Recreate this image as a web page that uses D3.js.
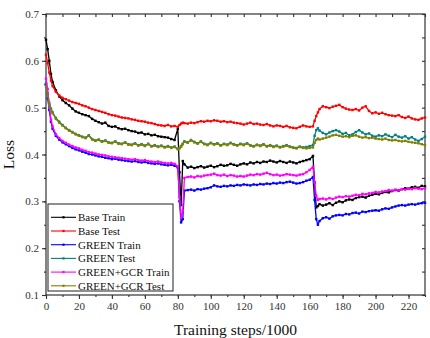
<!DOCTYPE html>
<html>
<head>
<meta charset="utf-8">
<script src="https://cdn.jsdelivr.net/npm/d3@7"></script>
<style>
  body { margin: 0; background: #fff; }
  svg { display: block; }
  text { font-family: "Liberation Serif", "Times New Roman", serif; }
</style>
</head>
<body>
<div class="chart"></div>
<script>
// training steps (x1000)
const steps = [0,1,2,3,4,6,8,10,12,14,16,18,20,22,24,26,28,30,32,34,36,38,40,42,44,46,48,50,52,54,56,58,60,62,64,66,68,70,72,74,76,78,
  80,81,82,83,84,
  86,88,90,92,94,96,98,100,102,104,106,108,110,112,114,116,118,120,122,124,126,128,130,132,134,136,138,140,142,144,146,148,150,152,154,156,158,160,
  162,163,164,165,166,
  168,170,172,174,176,178,180,182,184,186,188,190,192,194,196,198,200,202,204,206,208,210,212,214,216,218,220,222,224,226,228,230];

const baseTrain = [.645,.625,.600,.572,.555,.537,.524,.516,.510,.505,.498,.492,.489,.486,.484,.482,.476,.472,.469,.466,.468,.461,.459,.460,.456,.454,.455,.452,.450,.449,.446,.447,.443,.444,.441,.442,.439,.438,.437,.436,.433,.431,
  .455,.362,.292,.386,.379,
  .372,.374,.371,.373,.375,.372,.374,.376,.373,.375,.378,.376,.377,.380,.378,.376,.379,.381,.379,.383,.381,.384,.382,.385,.384,.387,.385,.383,.386,.384,.382,.385,.383,.381,.384,.386,.388,.390,
  .397,.340,.287,.290,.294,
  .291,.293,.296,.292,.297,.300,.298,.302,.304,.303,.307,.309,.310,.308,.312,.314,.316,.315,.318,.320,.319,.322,.324,.323,.326,.328,.327,.330,.331,.329,.333,.332];

const baseTest = [.613,.595,.575,.558,.546,.534,.526,.521,.518,.515,.512,.510,.508,.505,.503,.500,.497,.495,.493,.491,.489,.486,.484,.483,.481,.479,.478,.477,.475,.474,.472,.471,.470,.468,.467,.465,.463,.462,.461,.463,.460,.461,
  .459,.463,.466,.468,.467,
  .466,.468,.467,.469,.471,.470,.472,.471,.473,.472,.470,.471,.469,.470,.468,.467,.466,.464,.466,.468,.465,.466,.464,.463,.465,.462,.460,.462,.461,.459,.461,.458,.457,.456,.459,.462,.460,.459,
  .460,.472,.482,.490,.497,
  .503,.501,.499,.502,.504,.506,.501,.498,.496,.495,.497,.494,.500,.503,.493,.488,.490,.487,.489,.486,.484,.483,.482,.484,.480,.478,.481,.477,.475,.474,.477,.479];

const greenTrain = [.550,.520,.495,.470,.455,.440,.432,.426,.422,.418,.414,.411,.409,.406,.404,.401,.400,.398,.396,.395,.393,.392,.390,.391,.389,.388,.387,.386,.385,.386,.384,.383,.384,.382,.381,.380,.381,.379,.378,.377,.378,.376,
  .372,.300,.255,.262,.323,
  .324,.325,.323,.326,.325,.327,.328,.330,.334,.332,.331,.333,.332,.334,.333,.335,.334,.336,.335,.334,.336,.335,.337,.336,.338,.337,.339,.338,.340,.339,.341,.342,.340,.338,.339,.341,.344,.346,
  .352,.303,.262,.250,.258,
  .264,.266,.263,.268,.270,.271,.270,.273,.272,.275,.276,.274,.278,.277,.279,.280,.281,.280,.283,.285,.284,.287,.289,.291,.292,.291,.293,.294,.293,.295,.296,.297];

const greenTest = [.552,.530,.510,.498,.490,.478,.470,.463,.457,.452,.448,.444,.441,.438,.436,.441,.433,.430,.432,.428,.430,.426,.425,.428,.424,.423,.426,.422,.421,.424,.420,.422,.419,.423,.418,.420,.417,.419,.416,.418,.415,.417,
  .412,.414,.418,.423,.428,
  .426,.431,.427,.424,.428,.423,.421,.425,.422,.424,.420,.423,.421,.425,.422,.420,.423,.421,.424,.420,.418,.421,.419,.422,.418,.420,.417,.419,.416,.418,.420,.417,.415,.414,.417,.415,.416,.418,
  .420,.440,.452,.456,.451,
  .446,.443,.447,.450,.452,.449,.444,.446,.441,.443,.448,.452,.447,.443,.445,.440,.438,.441,.439,.443,.440,.437,.442,.438,.436,.439,.434,.437,.432,.429,.433,.438];

const gcrTrain = [.562,.540,.505,.475,.460,.443,.435,.429,.425,.421,.418,.415,.413,.410,.408,.405,.404,.402,.400,.399,.398,.396,.395,.394,.393,.392,.391,.390,.389,.390,.388,.387,.388,.386,.385,.384,.385,.383,.382,.381,.382,.380,
  .375,.310,.265,.280,.350,
  .352,.353,.351,.354,.353,.355,.356,.357,.359,.356,.355,.357,.354,.356,.355,.353,.354,.353,.355,.357,.356,.358,.357,.359,.361,.358,.356,.357,.355,.356,.358,.357,.356,.355,.357,.358,.362,.367,
  .374,.340,.312,.303,.305,
  .306,.304,.307,.305,.308,.310,.309,.311,.310,.312,.314,.313,.316,.315,.317,.318,.320,.319,.321,.322,.324,.323,.325,.324,.326,.325,.327,.326,.328,.327,.326,.328];

const gcrTest = [.545,.525,.505,.495,.488,.476,.468,.462,.456,.451,.447,.443,.440,.437,.435,.440,.432,.429,.431,.427,.429,.425,.424,.427,.423,.422,.425,.421,.420,.423,.419,.421,.418,.422,.417,.419,.416,.418,.415,.417,.414,.416,
  .411,.413,.417,.422,.427,
  .425,.430,.426,.423,.427,.422,.420,.424,.421,.423,.419,.422,.420,.424,.421,.419,.422,.420,.423,.419,.417,.420,.418,.421,.417,.419,.416,.418,.415,.417,.419,.416,.414,.413,.416,.414,.413,.414,
  .415,.425,.431,.434,.432,
  .434,.436,.438,.441,.442,.440,.438,.439,.437,.440,.441,.438,.436,.437,.435,.436,.434,.433,.432,.434,.431,.430,.431,.429,.428,.429,.427,.426,.425,.424,.422,.420];

const seriesNames = ["Base Train", "Base Test", "GREEN Train", "GREEN Test", "GREEN+GCR Train", "GREEN+GCR Test"];
const seriesValues = [baseTrain, baseTest, greenTrain, greenTest, gcrTrain, gcrTest];
const seriesColors = ["#000000", "#ff0000", "#0000ff", "#008080", "#ff00ff", "#808000"];

const xTicks = [0,20,40,60,80,100,120,140,160,180,200,220];
const yTicks = [0.1,0.2,0.3,0.4,0.5,0.6,0.7];

const width = 430, height = 338;
const margin = {top: 14, right: 5, bottom: 43, left: 46};

const svg = d3.select(".chart").append("svg")
  .attr("width", width)
  .attr("height", height);

const x = d3.scaleLinear().domain([0, 230]).range([margin.left, width - margin.right]);
const y = d3.scaleLinear().domain([0.1, 0.7]).range([height - margin.bottom, margin.top]);

const axisColor = "#333";
const minorX = d3.range(0, 231, 10);
const minorY = d3.range(0.1, 0.701, 0.05);

// frame
svg.append("rect")
  .attr("x", x(0)).attr("y", y(0.7))
  .attr("width", x(230) - x(0)).attr("height", y(0.1) - y(0.7))
  .attr("fill", "none").attr("stroke", axisColor).attr("stroke-width", 1.2);

// bottom axis
svg.append("g")
  .attr("transform", `translate(0,${y(0.1)})`)
  .call(d3.axisBottom(x).tickValues(minorX).tickSize(2).tickFormat(""))
  .call(g => g.select(".domain").remove());
svg.append("g")
  .attr("transform", `translate(0,${y(0.1)})`)
  .call(d3.axisBottom(x).tickValues(xTicks).tickSize(4).tickPadding(3))
  .call(g => g.select(".domain").remove())
  .call(g => g.selectAll("text").attr("font-size", 11).attr("fill", axisColor).style("font-family", "Liberation Serif"));

// top axis (inward ticks)
svg.append("g")
  .attr("transform", `translate(0,${y(0.7)})`)
  .call(d3.axisBottom(x).tickValues(minorX).tickSize(3).tickFormat(""))
  .call(g => g.select(".domain").remove());

// left axis
svg.append("g")
  .attr("transform", `translate(${x(0)},0)`)
  .call(d3.axisLeft(y).tickValues(minorY).tickSize(2).tickFormat(""))
  .call(g => g.select(".domain").remove());
svg.append("g")
  .attr("transform", `translate(${x(0)},0)`)
  .call(d3.axisLeft(y).tickValues(yTicks).tickSize(4).tickPadding(3).tickFormat(d3.format(".1f")))
  .call(g => g.select(".domain").remove())
  .call(g => g.selectAll("text").attr("font-size", 11).attr("fill", axisColor).style("font-family", "Liberation Serif"));

// right axis (inward ticks)
svg.append("g")
  .attr("transform", `translate(${x(230)},0)`)
  .call(d3.axisRight(y).tickValues(minorY).tickSize(-3).tickFormat(""))
  .call(g => g.select(".domain").remove());

svg.selectAll(".tick line").attr("stroke", axisColor).attr("stroke-width", 1.1);

// lines
const line = d3.line()
  .x((d, i) => x(steps[i]))
  .y(d => y(d));

seriesValues.forEach((vals, k) => {
  if (vals.length !== steps.length) console.log(seriesNames[k], vals.length, steps.length);
  const g = svg.append("g");
  g.append("path")
    .datum(vals)
    .attr("fill", "none")
    .attr("stroke", seriesColors[k])
    .attr("stroke-width", 1.3)
    .attr("stroke-linejoin", "round")
    .attr("d", line);
  g.selectAll("rect")
    .data(vals)
    .join("rect")
    .attr("x", (d, i) => x(steps[i]) - 1.2)
    .attr("y", d => y(d) - 1.2)
    .attr("width", 2.4)
    .attr("height", 2.4)
    .attr("fill", seriesColors[k]);
});

// legend
const legend = svg.append("g").attr("transform", "translate(48,204)");
legend.append("rect")
  .attr("width", 125).attr("height", 87)
  .attr("fill", "#fff").attr("stroke", axisColor).attr("stroke-width", 1.1);

const item = legend.selectAll(".item")
  .data(seriesNames)
  .join("g")
  .attr("class", "item")
  .attr("transform", (d, i) => `translate(0,${13.3 + i * 13.7})`);
item.append("line")
  .attr("x1", 3).attr("x2", 28)
  .attr("stroke", (d, i) => seriesColors[i]).attr("stroke-width", 1.1);
item.append("rect")
  .attr("x", 14.4).attr("y", -1.1).attr("width", 2.2).attr("height", 2.2)
  .attr("fill", (d, i) => seriesColors[i]);
item.append("text")
  .attr("x", 30).attr("y", 4)
  .attr("font-size", 11)
  .attr("fill", "#111")
  .text(d => d);

// axis titles
svg.append("text")
  .attr("transform", `translate(14,${(y(0.1) + y(0.7)) / 2}) rotate(-90)`)
  .attr("text-anchor", "middle")
  .attr("font-size", 15.5)
  .attr("fill", "#111")
  .text("Loss");

svg.append("text")
  .attr("x", (x(0) + x(230)) / 2)
  .attr("y", 335)
  .attr("text-anchor", "middle")
  .attr("font-size", 15.5)
  .attr("fill", "#111")
  .text("Training steps/1000");
</script>
</body>
</html>
